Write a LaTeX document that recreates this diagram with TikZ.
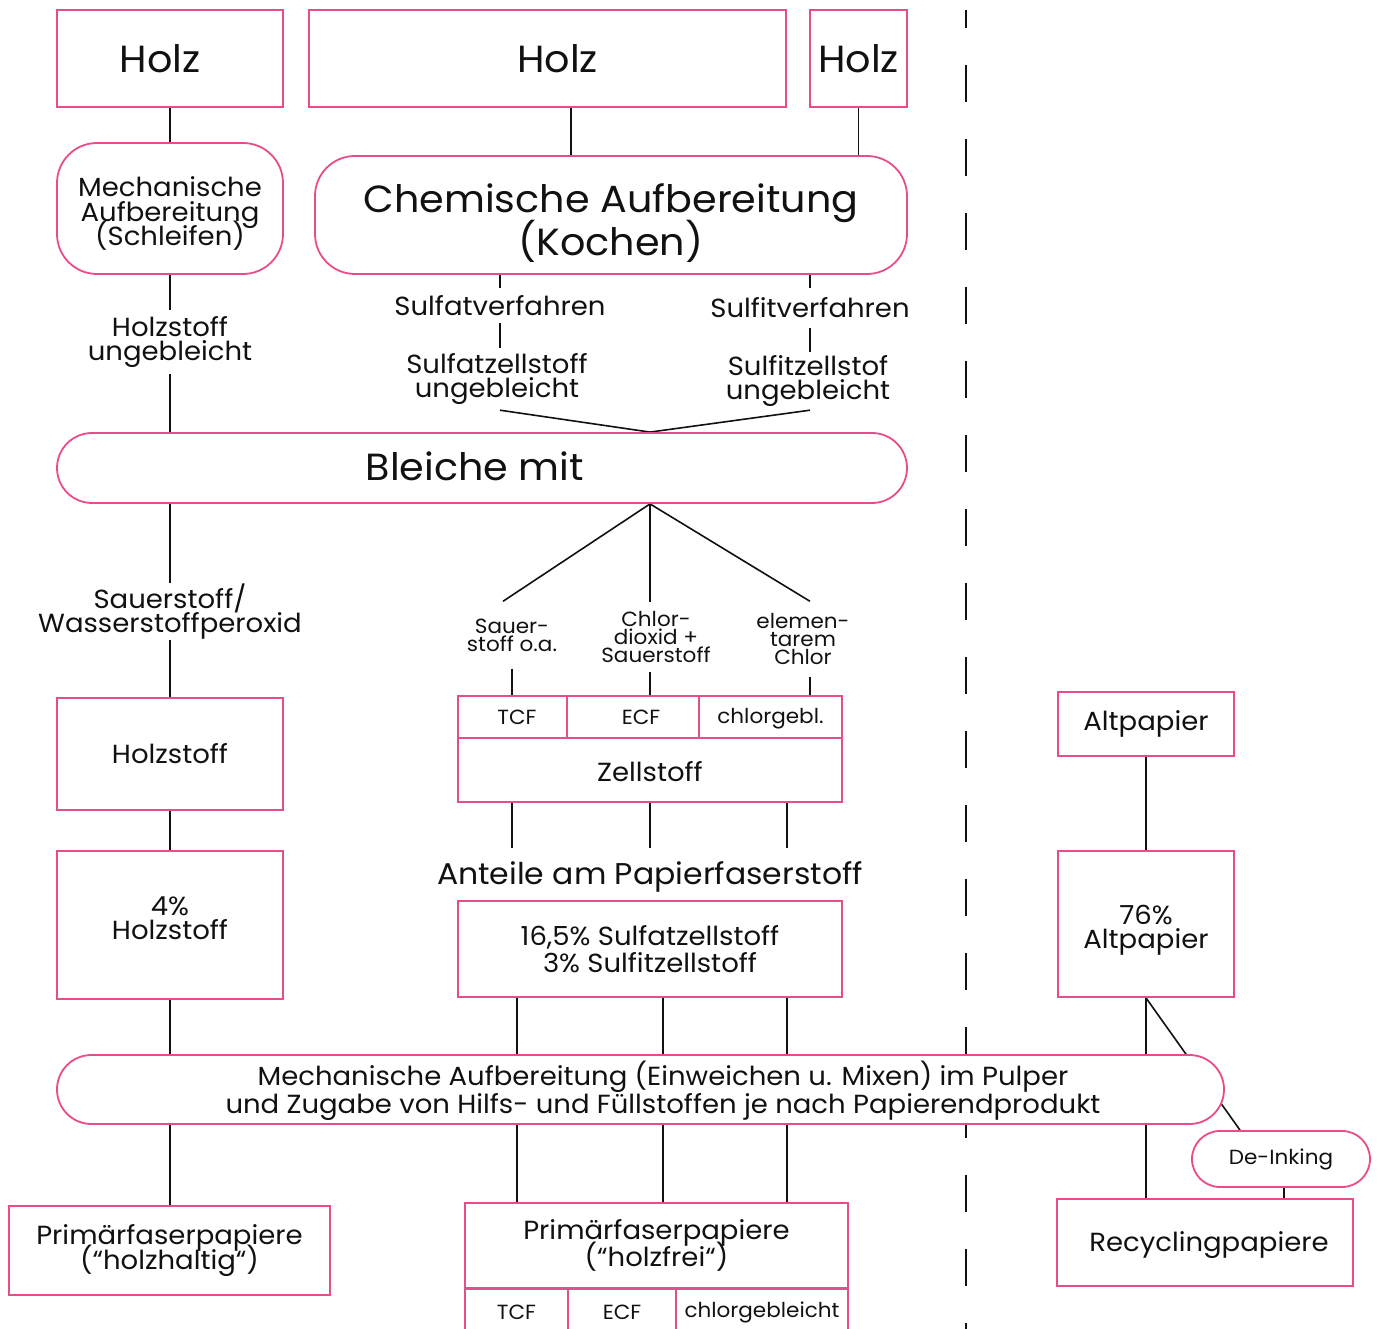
\documentclass[tikz,border=0pt]{standalone}
\usepackage{fontspec}
\setmainfont{Poppins}[FakeStretch=1.05]
\usetikzlibrary{backgrounds}
\definecolor{pk}{RGB}{233,76,138}
\definecolor{ink}{RGB}{17,17,17}
\newcommand\tightlines{\lineskiplimit=-100pt\lineskip=0pt\relax}
\newcommand\fXL{\fontsize{37.8}{43}\selectfont\tightlines}
\newcommand\fL{\fontsize{26.2}{24.5}\selectfont\tightlines}
\newcommand\fLw{\fontsize{26.2}{27.5}\selectfont\tightlines}
\newcommand\fM{\fontsize{30}{30}\selectfont\tightlines}
\newcommand\fS{\fontsize{20.5}{18}\selectfont\tightlines}
\tikzset{
  pbox/.style={draw=pk, line width=1.8pt, fill=white, inner sep=0pt, align=center, text=ink},
  rbox/.style={pbox, rounded corners=40pt},
  pill/.style={pbox, rounded corners=#1},
  lbl/.style={inner sep=0pt, align=center, text=ink},
  conn/.style={line width=1.6pt, ink},
}
\begin{document}
\begin{tikzpicture}[x=1pt,y=-1pt]
\useasboundingbox (0,0) rectangle (1377,1329);
\clip (0,0) rectangle (1377,1329);
% x positions of connectors
\coordinate (x170) at (170,0);
\coordinate (x500) at (500,0);
\coordinate (x571) at (571,0);
\coordinate (x650) at (650,0);
\coordinate (x512) at (512,0);
\coordinate (x787) at (787,0);
\coordinate (x810) at (810,0);
\coordinate (x517) at (517,0);
\coordinate (x663) at (663,0);
\coordinate (x503) at (503,0);
\coordinate (x1146) at (1146,0);
\coordinate (x1240) at (1240,0);
\coordinate (x1284) at (1284,0);

% top row
\node[pbox, minimum width=226, minimum height=97, font=\fXL] (holz1) at (170,58.5) {\hspace*{-20pt}Holz};
\node[pbox, minimum width=477, minimum height=97, font=\fXL] (holz2) at (547.5,58.5) {\hspace*{20pt}Holz};
\node[pbox, minimum width=97, minimum height=97, font=\fXL] (holz3) at (858.5,58.5) {Holz};

\node[rbox, minimum width=226, minimum height=131,
  label={[lbl, font=\fL, yshift=-5pt]center:{Mechanische\\Aufbereitung\\(Schleifen)}}] (mech) at (170,208.5) {};
\node[rbox, minimum width=592, minimum height=118,
  label={[lbl, font=\fXL, yshift=-8pt]center:{Chemische Aufbereitung\\(Kochen)}}] (chem) at (611,215) {};

\node[lbl, minimum height=63, font=\fL] (hu) at (170,342) {Holzstoff\\ungebleicht};
\node[lbl, minimum height=35, font=\fL] (sv) at (500,305.5) {Sulfatverfahren};
\node[lbl, minimum height=40, font=\fL] (siv) at (810,308) {Sulfitverfahren};
\node[lbl, minimum height=62, font=\fL] (sz) at (497,379) {Sulfatzellstoff\\ungebleicht};
\node[lbl, minimum height=58, font=\fL] (siz) at (808,381) {Sulfitzellstof\\ungebleicht};

\node[pill=35pt, minimum width=850, minimum height=70] (bleiche) at (482,468) {};
\node[lbl, font=\fXL] (bleichetext) at (475,466) {Bleiche mit};

\node[lbl, minimum height=53, font=\fL] (swp) at (170,611.5) {Sauerstoff/\\Wasserstoffperoxid};
\node[lbl, minimum height=67, font=\fS] (sauer) at (512,635) {Sauer-\\stoff o.a.};
\node[lbl, minimum height=70, font=\fS] (chlor) at (656,637) {Chlor-\\dioxid +\\Sauerstoff};
\node[lbl, minimum height=75, font=\fS] (elem) at (803,639) {elemen-\\tarem\\Chlor};

\node[pbox, minimum width=226, minimum height=112, font=\fL] (holzst) at (170,754) {Holzstoff};
\node[pbox, minimum width=226, minimum height=148,
  label={[lbl, font=\fL, yshift=7pt]center:{4\%\\Holzstoff}}] (h4) at (170,925) {};

\node[pbox, minimum width=109, minimum height=42, font=\fS] (tcf) at (512.5,717) {\hspace*{9pt}TCF};
\node[pbox, minimum width=132, minimum height=42, font=\fS] (ecf) at (633,717) {\hspace*{16pt}ECF};
\node[pbox, minimum width=143, minimum height=42, font=\fS,
  label={[lbl, font=\fS, yshift=-2pt]center:{chlorgebl.}}] (chl) at (770.5,717) {};
\node[pbox, minimum width=384, minimum height=64,
  label={[lbl, font=\fL, yshift=-2pt]center:{Zellstoff}}] (zell) at (650,770) {};

\node[lbl, minimum height=58, font=\fM] (anteile) at (650,877) {Anteile am Papierfaserstoff};
\node[pbox, minimum width=384, minimum height=96, font=\fLw] (ant) at (650,949) {16,5\% Sulfatzellstoff\\3\% Sulfitzellstoff};

\node[pill=34.5pt, minimum width=1167, minimum height=69] (pulper) at (640.5,1089.5) {};
\node[lbl, font=\fLw] (pulpertext) at (663,1091) {Mechanische Aufbereitung (Einweichen u. Mixen) im Pulper\\und Zugabe von Hilfs- und Füllstoffen je nach Papierendprodukt};

\node[pbox, minimum width=321, minimum height=89, font=\fL] (hh) at (169.5,1250.5) {Primärfaserpapiere\\(“holzhaltig“)};
\node[pbox, minimum width=383, minimum height=85, font=\fLw] (hf) at (656.5,1245.5) {Primärfaserpapiere\\(“holzfrei“)};
\node[pbox, minimum width=103, minimum height=50, font=\fS, anchor=north] (tcf2) at (516.5,1288) {\\[-6pt]TCF};
\node[pbox, minimum width=108, minimum height=50, font=\fS, anchor=north] (ecf2) at (622,1288) {\\[-6pt]ECF};
\node[pbox, minimum width=172, minimum height=50, font=\fS, anchor=north] (chl2) at (762,1288) {\\[-6pt]chlorgebleicht};

\node[pbox, minimum width=176, minimum height=64, font=\fL] (altp) at (1146,724) {Altpapier};
\node[pbox, minimum width=176, minimum height=146,
  label={[lbl, font=\fL, yshift=-6pt]center:{76\%\\Altpapier}}] (a76) at (1146,924) {};
\node[pill=28pt, minimum width=178, minimum height=56, font=\fS] (deink) at (1281,1159) {De-Inking};
\node[pbox, minimum width=296, minimum height=87,
  label={[lbl, font=\fL, yshift=-3pt]center:{\hspace*{8pt}Recyclingpapiere}}] (rec) at (1205,1242.5) {};

\begin{scope}[on background layer]
  \draw[conn, line width=2pt, dash pattern=on 37pt off 37pt, dash phase=19pt] (966,10) -- (966,1340);
  % left column
  \draw[conn] (holz1.south) -- (mech.north);
  \draw[conn] (mech.south) -- (hu.north);
  \draw[conn] (hu.south) -- (bleiche.north -| x170);
  \draw[conn] (bleiche.south -| x170) -- (swp.north);
  \draw[conn] (swp.south) -- (holzst.north);
  \draw[conn] (holzst.south) -- (h4.north);
  \draw[conn] (h4.south) -- (pulper.north -| x170);
  \draw[conn] (pulper.south -| x170) -- (hh.north -| x170);
  % chemical
  \draw[conn] (holz2.south -| x571) -- (chem.north -| x571);
  \draw[conn] (holz3.south) -- (chem.north -| holz3);
  \draw[conn] (chem.south -| x500) -- (sv.north -| x500);
  \draw[conn] (sv.south -| x500) -- (sz.north -| x500);
  \draw[conn] (chem.south -| x810) -- (siv.north -| x810);
  \draw[conn] (siv.south -| x810) -- (siz.north -| x810);
  \draw[conn] (sz.south -| x500) -- (bleiche.north -| x650);
  \draw[conn] (siz.south -| x810) -- (bleiche.north -| x650);
  % bleaching fan
  \draw[conn] (bleiche.south -| x650) -- (sauer.north -| x503);
  \draw[conn] (bleiche.south -| x650) -- (chlor.north -| x650);
  \draw[conn] (bleiche.south -| x650) -- (elem.north -| x810);
  \draw[conn] (sauer.south -| x512) -- (tcf.north -| x512);
  \draw[conn] (chlor.south -| x650) -- (ecf.north -| x650);
  \draw[conn] (elem.south -| x810) -- (chl.north -| x810);
  % below Zellstoff
  \draw[conn] (zell.south -| x512) -- (anteile.north -| x512);
  \draw[conn] (zell.south -| x650) -- (anteile.north -| x650);
  \draw[conn] (zell.south -| x787) -- (anteile.north -| x787);
  \draw[conn] (ant.south -| x517) -- (pulper.north -| x517);
  \draw[conn] (ant.south -| x663) -- (pulper.north -| x663);
  \draw[conn] (ant.south -| x787) -- (pulper.north -| x787);
  \draw[conn] (pulper.south -| x517) -- (hf.north -| x517);
  \draw[conn] (pulper.south -| x663) -- (hf.north -| x663);
  \draw[conn] (pulper.south -| x787) -- (hf.north -| x787);
  % recycling
  \draw[conn] (altp.south) -- (a76.north);
  \draw[conn] (a76.south) -- (rec.north -| x1146);
  \draw[conn] (a76.south) -- (deink.north -| x1240);
  \draw[conn] (deink.south -| x1284) -- (rec.north -| x1284);
\end{scope}
\end{tikzpicture}
\end{document}
